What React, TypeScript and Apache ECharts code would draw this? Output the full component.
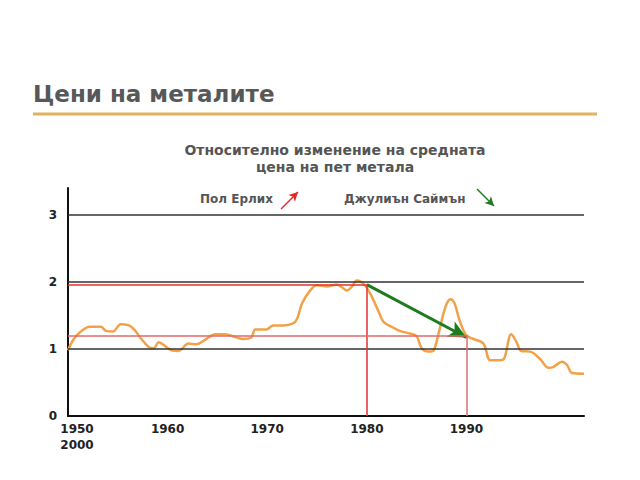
import React, { useEffect, useRef } from "react";
import * as echarts from "echarts";

const years = [1950, 1950.5, 1951.2, 1952.2, 1953.3, 1953.8, 1954.5, 1955.3, 1956.1, 1956.7, 1957.3, 1958.1, 1958.6, 1959.1, 1959.6, 1960.4, 1961.1, 1962.1, 1962.9, 1963.8, 1964.8, 1965.8, 1966.7, 1967.5, 1968.4, 1968.8, 1969.9, 1970.6, 1971.6, 1972.6, 1973, 1973.5, 1974.3, 1975, 1976, 1977, 1977.5, 1978, 1978.5, 1979, 1979.8, 1980.5, 1981.2, 1981.7, 1982.5, 1983.3, 1984.3, 1985, 1985.5, 1986.2, 1986.7, 1987.2, 1987.9, 1988.4, 1988.8, 1989.3, 1989.9, 1990.5, 1991.7, 1992.4, 1993.4, 1993.8, 1994.5, 1995, 1995.5, 1996.4, 1997.4, 1998.2, 1998.7, 1999.6, 2000.1, 2000.6, 2001.8];
const priceIndex = [0.98, 1.13, 1.25, 1.33, 1.33, 1.27, 1.26, 1.37, 1.35, 1.28, 1.16, 1.03, 1.01, 1.1, 1.06, 0.98, 0.97, 1.08, 1.07, 1.14, 1.22, 1.22, 1.18, 1.15, 1.17, 1.29, 1.29, 1.35, 1.35, 1.38, 1.45, 1.68, 1.87, 1.95, 1.93, 1.96, 1.92, 1.87, 1.93, 2.02, 1.95, 1.78, 1.55, 1.4, 1.33, 1.27, 1.23, 1.19, 1.01, 0.96, 0.98, 1.23, 1.63, 1.74, 1.68, 1.43, 1.22, 1.16, 1.08, 0.83, 0.83, 0.86, 1.22, 1.11, 0.97, 0.96, 0.85, 0.72, 0.73, 0.81, 0.76, 0.64, 0.63];

const decadeTicks = [1950, 1960, 1970, 1980, 1990];
const extraTickLabel = "2000";
const gridValues = [1, 2, 3];

const title = "Цени на металите";
const subtitle = "Относително изменение на средната\nцена на пет метала";
const ehrlich = "Пол Ерлих";
const simon = "Джулиън Саймън";

const start = { year: 1980, value: 1.96 };
const end = { year: 1990, value: 1.2 };

const FONT = "DejaVu Sans";

export default function App() {
  const ref = useRef<HTMLDivElement>(null);
  useEffect(() => {
    if (!ref.current) return;
    const chart = echarts.init(ref.current, null, { renderer: "svg" });
    const lineData = years.map((y, i) => [y, priceIndex[i]]);
    chart.setOption({
      animation: false,
      backgroundColor: "#ffffff",
      grid: { left: 68, right: 56, top: 188, bottom: 64, containLabel: false },
      xAxis: {
        type: "value",
        min: 1950,
        max: 2001.8,
        interval: 10,
        axisLine: { show: true, lineStyle: { color: "#111", width: 2 } },
        axisTick: { show: false },
        splitLine: { show: false },
        axisLabel: {
          margin: 5,
          color: "#222",
          fontFamily: FONT,
          fontWeight: "bold",
          fontSize: 12,
          lineHeight: 16,
          showMaxLabel: false,
          formatter: (v: number) => {
            if (v === decadeTicks[0]) return "{first|" + v + "\n" + extraTickLabel + "}";
            return decadeTicks.indexOf(v) >= 0 ? String(v) : "";
          },
          rich: {
            first: { padding: [0, 0, 0, 18], fontFamily: FONT, fontWeight: "bold", fontSize: 12, color: "#222", lineHeight: 16 },
          },
        },
      },
      yAxis: {
        type: "value",
        min: 0,
        max: 3.4,
        interval: 1,
        axisLine: { show: true, lineStyle: { color: "#111", width: 2 } },
        axisTick: { show: false },
        splitLine: { show: false },
        axisLabel: {
          margin: 11,
          color: "#222",
          fontFamily: FONT,
          fontWeight: "bold",
          fontSize: 12,
          showMaxLabel: false,
          formatter: (v: number) => (v <= 3 ? String(v) : ""),
        },
      },
      graphic: [
        {
          type: "text",
          left: 33,
          top: 82,
          style: { text: title, font: `bold 23px "${FONT}"`, fill: "#585858" },
        },
        {
          type: "rect",
          shape: { x: 33, y: 112.5, width: 564, height: 3 },
          style: { fill: "#E2B25E" },
        },
        {
          type: "text",
          x: 335,
          y: 141,
          style: { text: subtitle, font: `bold 14px "${FONT}"`, fill: "#555", align: "center", lineHeight: 17 },
        },
        {
          type: "text",
          x: 200,
          y: 193,
          style: { text: ehrlich, font: `bold 12px "${FONT}"`, fill: "#555" },
        },
        {
          type: "text",
          x: 344,
          y: 193,
          style: { text: simon, font: `bold 12px "${FONT}"`, fill: "#555" },
        },
      ],
      series: [
        {
          type: "line",
          data: [],
          silent: true,
          markLine: {
            silent: true,
            symbol: "none",
            label: { show: false },
            lineStyle: { color: "#333", width: 1.5, type: "solid" },
            data: gridValues.map((g) => ({ yAxis: g })),
          },
        },
        {
          type: "line",
          data: [],
          silent: true,
          markLine: {
            silent: true,
            symbol: "none",
            label: { show: false },
            data: [
              [{ coord: [1950, start.value], lineStyle: { color: "#E6302C", width: 1.5, type: "solid" } }, { coord: [start.year, start.value] }],
              [{ coord: [start.year, start.value], lineStyle: { color: "#E6302C", width: 1.5, type: "solid" } }, { coord: [start.year, 0] }],
              [{ coord: [1950, end.value], lineStyle: { color: "#E06A6A", width: 1.5, type: "solid" } }, { coord: [end.year, end.value] }],
              [{ coord: [end.year, end.value], lineStyle: { color: "#E06A6A", width: 1.5, type: "solid" } }, { coord: [end.year, 0] }],
            ],
          },
        },
        {
          type: "line",
          data: lineData,
          smooth: 0.35,
          showSymbol: false,
          silent: true,
          lineStyle: { color: "#F2A148", width: 2.5 },
          z: 3,
        },
        {
          type: "line",
          data: [],
          silent: true,
          z: 4,
          markLine: {
            silent: true,
            z: 4,
            label: { show: false },
            symbol: ["none", "arrow"],
            data: [
              [
                { coord: [start.year, start.value], symbol: "none", lineStyle: { color: "#1E7B1E", width: 3, type: "solid" } },
                { coord: [end.year, end.value - 0.03], symbol: "arrow", symbolSize: [13, 18] },
              ],
              [
                { x: 281, y: 209, symbol: "none", lineStyle: { color: "#E8262A", width: 1.5, type: "solid" } },
                { x: 298, y: 192, symbol: "arrow", symbolSize: [7, 9] },
              ],
              [
                { x: 477, y: 189, symbol: "none", lineStyle: { color: "#1E7B1E", width: 1.5, type: "solid" } },
                { x: 494, y: 206, symbol: "arrow", symbolSize: [7, 9] },
              ],
            ],
          },
        },
      ],
    });
    return () => chart.dispose();
  }, []);
  return <div ref={ref} style={{ position: "fixed", left: 0, top: 0, width: 640, height: 480 }} />;
}
